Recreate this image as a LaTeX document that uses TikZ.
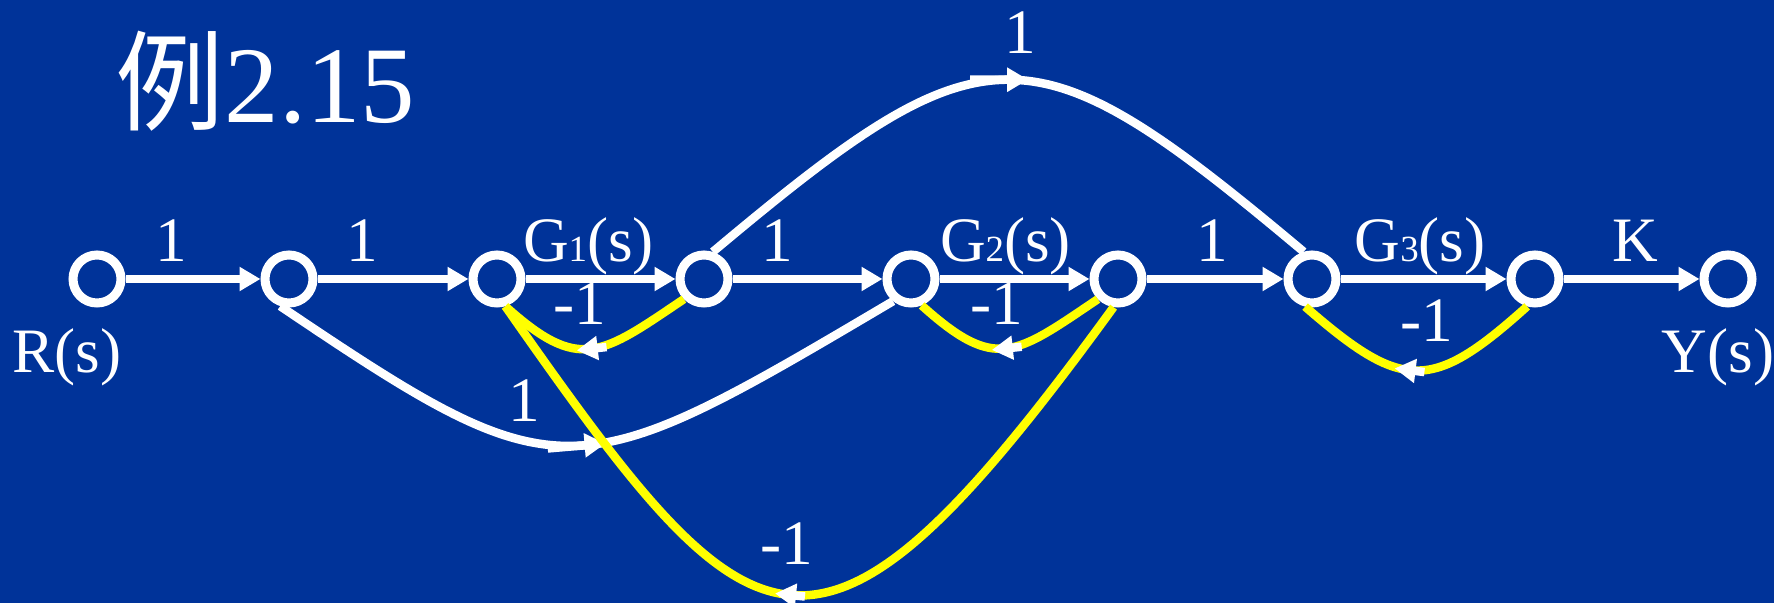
\documentclass[tikz,border=0pt]{standalone}
\usepackage{fontspec}
\setmainfont{Liberation Serif}
\newfontfamily\cjkfont{Noto Sans CJK SC}
\usetikzlibrary{arrows.meta,positioning,decorations.markings}
\definecolor{bgblue}{RGB}{0,51,153}
\definecolor{fbyellow}{RGB}{255,255,0}
\newcommand{\gfun}[1]{G{\fontsize{10.5}{12}\selectfont #1}(s)}

\begin{document}
\begin{tikzpicture}[>={Triangle[length=2.1mm,width=2.3mm]},
   nd/.style={circle,draw=white,line width=0.9mm,minimum size=4.8mm,inner sep=0pt},
   ln/.style={white,line width=0.85mm},
   fb/.style={fbyellow,line width=0.85mm},
   lbl/.style={text=white,font=\fontsize{18}{20}\selectfont,inner sep=0pt,anchor=base},
   mid/.style={postaction={decorate},decoration={markings,mark=at position #1 with
     {\draw[white,line width=0.85mm,->] (-3.8mm,0) -- (2mm,0);}}},
   fbmid/.style={postaction={decorate},decoration={markings,mark=at position #1 with
     {\draw[white,line width=0.85mm,->] (-1.6mm,0) -- (1.4mm,0);}}}]
  \useasboundingbox (0,0) rectangle (17.74,6.03);
  \fill[bgblue] (0,0) rectangle (17.74,6.03);
  \node[text=white,font=\fontsize{31}{34}\selectfont,inner sep=0pt,anchor=base west] (title) at (1.15,4.80) {{\cjkfont 例}2.15};
  % nodes along the main path
  \node[nd] (n1) at (0.97,3.24) {};
  \node[nd] (n2) at (2.89,3.24) {};
  \node[nd] (n3) at (4.97,3.24) {};
  \node[nd] (n4) at (7.04,3.24) {};
  \node[nd] (n5) at (9.11,3.24) {};
  \node[nd] (n6) at (11.18,3.24) {};
  \node[nd] (n7) at (13.12,3.24) {};
  \node[nd] (n8) at (15.35,3.24) {};
  \node[nd] (n9) at (17.28,3.24) {};
  \node[lbl] (rs) at (0.67,2.30) {R(s)};
  \node[lbl] (ys) at (17.18,2.30) {Y(s)};
  \draw[ln,->] (n1)--(n2) node[lbl,pos=.34,yshift=1.7mm] (w12) {1};
  \draw[ln,->] (n2)--(n3) node[lbl,pos=.30,yshift=1.7mm] (w23) {1};
  \draw[ln,->] (n3)--(n4) node[lbl,pos=.42,yshift=1.7mm] (w34) {\gfun{1}};
  \draw[ln,->] (n4)--(n5) node[lbl,pos=.30,yshift=1.7mm] (w45) {1};
  \draw[ln,->] (n5)--(n6) node[lbl,pos=.44,yshift=1.7mm] (w56) {\gfun{2}};
  \draw[ln,->] (n6)--(n7) node[lbl,pos=.48,yshift=1.7mm] (w67) {1};
  \draw[ln,->] (n7)--(n8) node[lbl,pos=.48,yshift=1.7mm] (w78) {\gfun{3}};
  \draw[ln,->] (n8)--(n9) node[lbl,pos=.53,yshift=1.7mm] (w89) {K};
  % forward branches
  \draw[ln,mid=0.5] (n4.72) .. controls +(40:3.57) and +(140:3.57) .. (n7.107);
  \node[lbl] (wtop) at (10.20,5.49) {1};
  \draw[ln,mid=0.5] (n2.-108) .. controls +(-34:3.4) and +(-149.4:3.72) .. (n5.-129);
  \node[lbl] (wlow) at (5.24,1.81) {1};
  % feedback branches
  \draw[fb,fbmid=0.52] (n4.-135) .. controls +(-146:1.0) and +(-42:1.0) .. (n3.-73);
  \node[lbl] (f43) at (5.80,2.78) {-1};
  \draw[fb,fbmid=0.52] (n6.-135) .. controls +(-146:1.0) and +(-42:1.0) .. (n5.-68);
  \node[lbl] (f65) at (9.97,2.78) {-1};
  \draw[fb,fbmid=0.53] (n8.-106) .. controls +(-138:1.29) and +(-41:1.29) .. (n7.-104);
  \node[lbl] (f87) at (14.27,2.61) {-1};
  \draw[fb,fbmid=0.52] (n6.-99) .. controls +(-126:5.1) and +(-55:4.35) .. (n3.-73);
  \node[lbl] (f63) at (7.87,0.38) {-1};
\end{tikzpicture}
\end{document}
